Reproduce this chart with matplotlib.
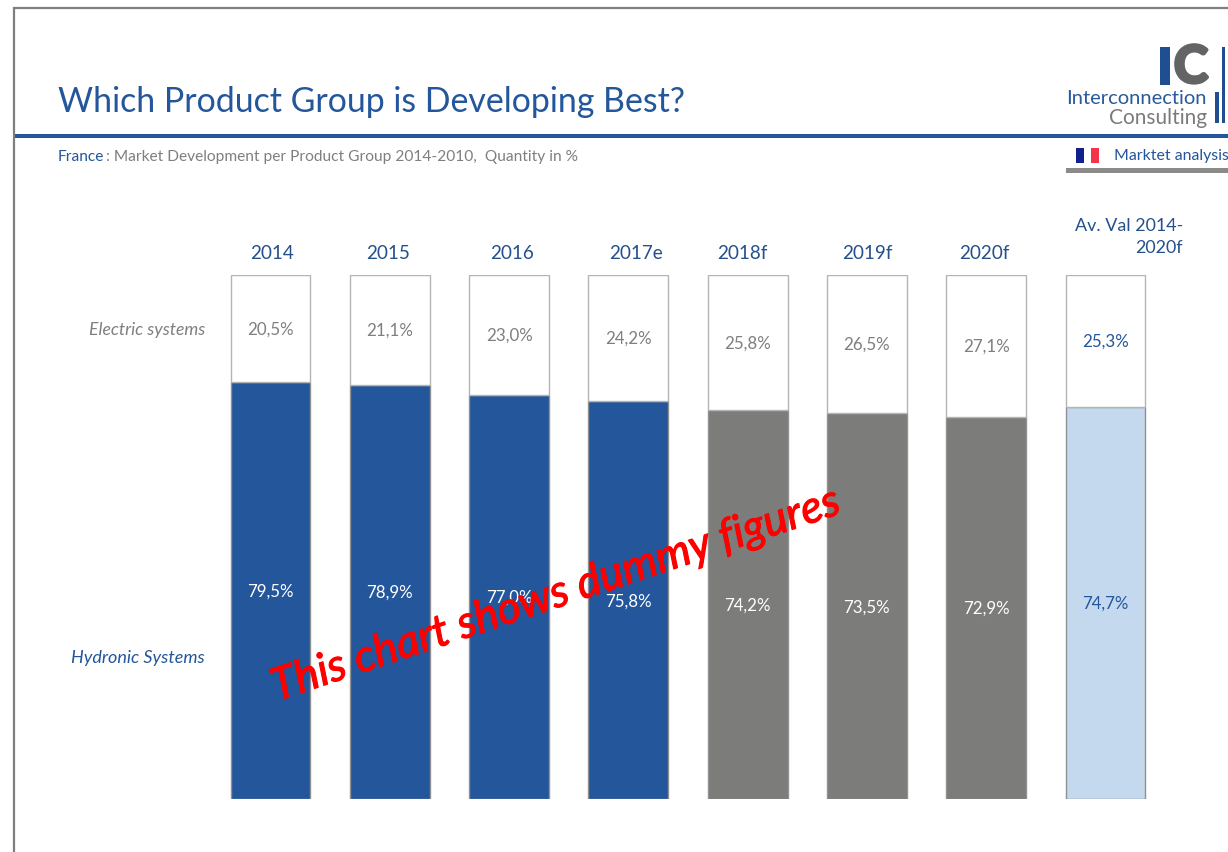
import numpy as np
import matplotlib
matplotlib.use('Agg')
import matplotlib.pyplot as plt
import matplotlib.patheffects as pe
from matplotlib.patches import Rectangle

plt.rcParams['font.family'] = ['Lato', 'DejaVu Sans']

BLUE = '#23569b'
GREY = '#7c7d7a'
LIGHT = '#c5d9ee'
TEXT_GREY = '#7f7f7f'
NAVY = '#24508c'

categories = ['2014', '2015', '2016', '2017e', '2018f', '2019f', '2020f', 'Av. Val 2014-\n2020f']
electric = [20.5, 21.1, 23.0, 24.2, 25.8, 26.5, 27.1, 25.3]
hydronic = [79.5, 78.9, 77.0, 75.8, 74.2, 73.5, 72.9, 74.7]
bar_colors = [BLUE, BLUE, BLUE, BLUE, GREY, GREY, GREY, LIGHT]
# header labels do not sit exactly over the bars
label_shift = [1, -2, 3, 8, -5, 0, -2]

W, H = 1228, 852
fig = plt.figure(figsize=(W / 100, H / 100), dpi=100)

# stacked bars
left, right, top, bottom = 210.9, 1165.1, 274.5, 799
ax = fig.add_axes([left / W, 1 - bottom / H, (right - left) / W, (bottom - top) / H])
x = np.arange(len(categories))
ax.bar(x, hydronic, width=0.67, color=bar_colors, edgecolor='#8f9192', linewidth=1)
ax.bar(x, electric, bottom=hydronic, width=0.67, color='white', edgecolor='#b4b4b4', linewidth=1)
ax.set_xlim(-0.5, 7.5)
ax.set_ylim(0, 100)
ax.axis('off')


def pct(v):
    return f'{v:.1f}%'.replace('.', ',')


for i in x:
    if i < 7:
        low_col, up_col = 'white', TEXT_GREY
    else:
        low_col, up_col = BLUE, BLUE
    ax.annotate(pct(hydronic[i]), xy=(i, hydronic[i] / 2), xytext=(0, -1), textcoords='offset pixels',
                color=low_col, fontsize=12.2, ha='center', va='center')
    ax.annotate(pct(electric[i]), xy=(i, hydronic[i] + electric[i] / 2), xytext=(0, -1),
                textcoords='offset pixels', color=up_col, fontsize=12.2, ha='center', va='center')

for i in range(7):
    ax.annotate(categories[i], xy=(i, 100), xytext=(label_shift[i], 21), textcoords='offset pixels',
                color=NAVY, fontsize=13.6, ha='center', va='center')

# page furniture, drawn in pixel coordinates
page = fig.add_axes([0, 0, 1, 1], facecolor='none')
page.set_xlim(0, W)
page.set_ylim(H, 0)
page.axis('off')

page.plot([14, 14, W], [H, 8, 8], color='#7f7f7f', lw=1.6, solid_joinstyle='miter')
page.add_patch(Rectangle((14, 134), W - 14, 4, color=BLUE, lw=0))
page.add_patch(Rectangle((1066, 168), W - 1066, 4.5, color='#8a8b89', lw=0))

page.text(58, 102, 'Which Product Group is Developing Best?', color=BLUE, fontsize=24.4,
          ha='left', va='center')
page.text(58, 157, 'France', color=BLUE, fontsize=11.2, ha='left', va='center')
page.text(105.5, 157, ': Market Development per Product Group 2014-2010,  Quantity in %',
          color=TEXT_GREY, fontsize=11.2, ha='left', va='center')

# logo
page.add_patch(Rectangle((1160, 47), 10, 38, color='#1f4e91', lw=0))
page.text(1191, 68, 'C', color='#636466', fontsize=37, fontweight='bold', ha='center', va='center',
          path_effects=[pe.withStroke(linewidth=2.5, foreground='#636466')])
page.add_patch(Rectangle((1222, 47), 3, 76, color='#1f4e91', lw=0))
page.add_patch(Rectangle((1215, 92), 4, 31, color='#1f4e91', lw=0))
page.text(1207, 98, 'Interconnection', color='#2a5a9c', fontsize=14.5, ha='right', va='center')
page.text(1207, 118, 'Consulting', color='#7a7b7d', fontsize=15, ha='right', va='center')

# flag and section tag
page.add_patch(Rectangle((1076, 148), 8, 15, color='#10218b', lw=0))
page.add_patch(Rectangle((1091, 148), 8, 15, color='#f5324a', lw=0))
page.text(1114, 156, 'Marktet analysis', color=BLUE, fontsize=11.4, ha='left', va='center')

# average column header is right aligned over two lines
page.text(1183, 256, categories[7], color=NAVY, fontsize=12.9, ha='right', va='bottom',
          linespacing=1.45, multialignment='right')

# row names
page.text(205, 330, 'Electric systems', color=TEXT_GREY, fontsize=12.7, style='italic',
          ha='right', va='center')
page.text(205, 658, 'Hydronic Systems', color=BLUE, fontsize=13, style='italic',
          ha='right', va='center')

# stamp across the chart
page.text(556, 595, 'This chart shows dummy figures', color='#ff0000', fontsize=32.3,
          style='italic', rotation=18.4, rotation_mode='anchor', ha='center', va='center',
          path_effects=[pe.withStroke(linewidth=0.8, foreground='#ff0000')])

fig.savefig('out.png', dpi=100)
